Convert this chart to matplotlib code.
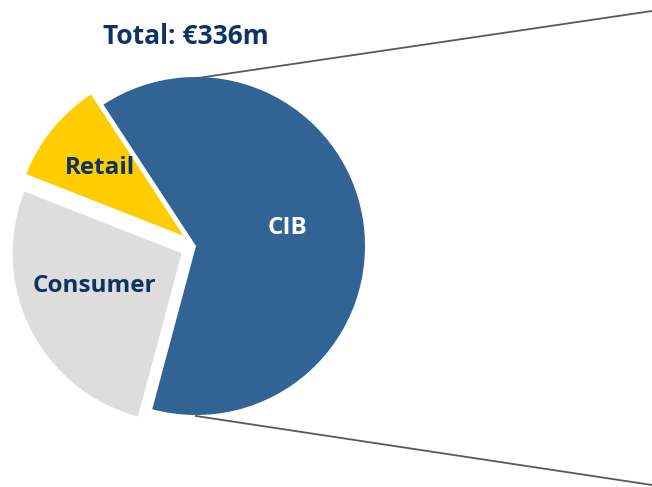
"""
Revenue split pie, total EUR 336m
"""

import numpy as np
import matplotlib
matplotlib.use("Agg")
import matplotlib.pyplot as plt

#--------------------------------------------------------------

segments = ["CIB", "Retail", "Consumer"]
revenue = [213, 33, 90]          # EUR m
total_label = "Total: €336m"

colors = ["#316395", "#FFCC00", "#DDDDDD"]
label_colors = ["white", "#0E3263", "#0E3263"]
explode_frac = [0.0, 0.095, 0.095]
label_frac = [0.55, 0.64, 0.55]
label_turn = [2, 0, -6]          # small angular nudge of labels, deg

NAVY = "#0E3263"

#--------------------------------------------------------------

plt.rcParams['font.family'] = ['Open Sans', 'DejaVu Sans']

fig = plt.figure(figsize=(6.52, 4.87), dpi=100)
ax = fig.add_axes([0, 0, 1, 1])

center = (196, 241)
radius = 169

wedges, _ = ax.pie(revenue, colors=colors,
                   explode=[e*radius for e in explode_frac],
                   startangle=-105, counterclock=True,
                   center=center, radius=radius, frame=True,
                   wedgeprops=dict(linewidth=0))
ax.set_xlim(0, 652)
ax.set_ylim(0, 487)
ax.set_aspect('equal')
ax.axis('off')

for wedge, name, col, frac, turn in zip(wedges, segments, label_colors,
                                        label_frac, label_turn):
    mid = np.deg2rad((wedge.theta1 + wedge.theta2) / 2 + turn)
    cx, cy = wedge.center
    ax.text(cx + radius*frac*np.cos(mid), cy + radius*frac*np.sin(mid), name,
            ha='center', va='center', color=col, fontsize=17.5,
            fontweight='bold')

# connector lines towards the breakdown on the right
top = (center[0], center[1] + radius)
bot = (center[0], center[1] - radius)
ax.plot([top[0] + 2, 652], [top[1] - 1, 476], color="#595959", lw=1.3)
ax.plot([bot[0], 652], [bot[1] - 1, 2], color="#595959", lw=1.3)

ax.text(186, 450, total_label, ha='center', va='center', color=NAVY,
        fontsize=19, fontweight='bold')

fig.savefig("out.png", dpi=100)
